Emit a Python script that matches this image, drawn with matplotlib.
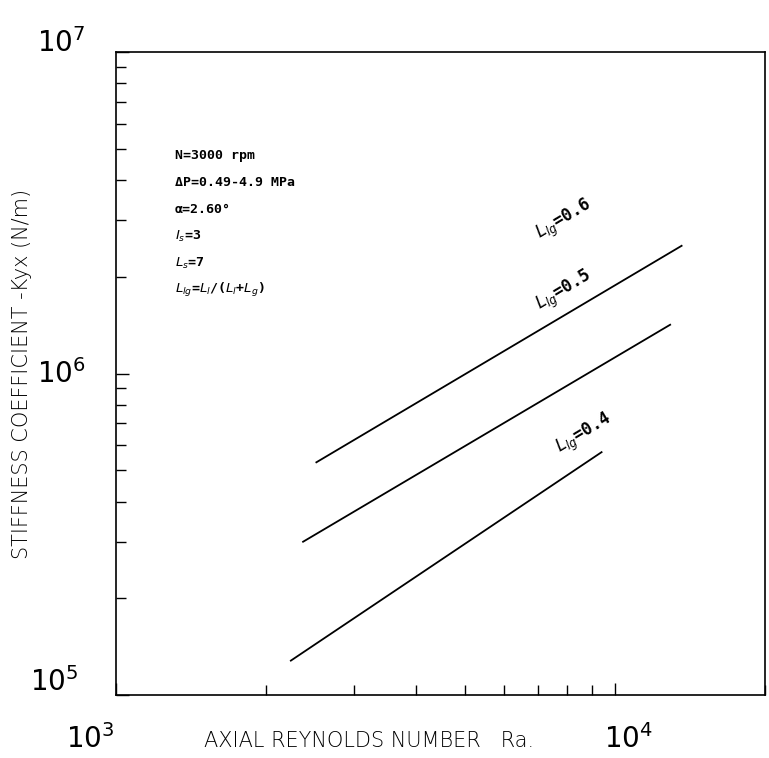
import matplotlib.pyplot as plt
from matplotlib.ticker import LogLocator, NullFormatter

plt.rcParams["font.family"] = ["DejaVu Sans"]

# values (Ra, -Kyx in N/m)
ra_06 = [2520, 13600]
k_06 = [5.3e5, 2.5e6]
ra_05 = [2370, 12900]
k_05 = [3.0e5, 1.42e6]
ra_04 = [2240, 9400]
k_04 = [1.28e5, 5.7e5]

line_labels = [r"$L_{lg}$=0.6", r"$L_{lg}$=0.5", r"$L_{lg}$=0.4"]
label_pos = [(7900, 3.0e6), (7900, 1.8e6), (8700, 6.5e5)]

info_lines = [
    "N=3000 rpm",
    "\u0394P=0.49-4.9 MPa",
    "\u03b1=2.60\u00b0",
    r"$I_s$=3",
    r"$L_s$=7",
    r"$L_{lg}$=$L_l$/($L_l$+$L_g$)",
]

fig = plt.figure(figsize=(7.69, 7.58), dpi=100)
ax = fig.add_axes([0.151, 0.083, 0.844, 0.848])

for xs, ys in [(ra_06, k_06), (ra_05, k_05), (ra_04, k_04)]:
    ax.plot(xs, ys, color="black", lw=1.3)

ax.set_xscale("log")
ax.set_yscale("log")
ax.set_xlim(1e3, 2e4)
ax.set_ylim(1e5, 1e7)

ax.xaxis.set_major_locator(LogLocator(base=10, numticks=5))
ax.xaxis.set_minor_locator(LogLocator(base=10, subs=range(2, 10), numticks=10))
ax.yaxis.set_major_locator(LogLocator(base=10, numticks=5))
ax.yaxis.set_minor_locator(LogLocator(base=10, subs=range(2, 10), numticks=10))
ax.xaxis.set_major_formatter(NullFormatter())
ax.xaxis.set_minor_formatter(NullFormatter())
ax.yaxis.set_major_formatter(NullFormatter())
ax.yaxis.set_minor_formatter(NullFormatter())
ax.tick_params(which="both", direction="in", top=False, right=False)
ax.tick_params(which="major", length=9, width=1)
ax.tick_params(which="minor", length=7, width=1)

for sp in ax.spines.values():
    sp.set_linewidth(1.2)

# tick labels drawn like the plotter ones
ax.text(-0.04, -0.068, r"$10^{3}$", transform=ax.transAxes, fontsize=20,
        ha="center", va="center")
ax.text(0.79, -0.068, r"$10^{4}$", transform=ax.transAxes, fontsize=20,
        ha="center", va="center")
ax.text(-0.085, 1.015, r"$10^{7}$", transform=ax.transAxes, fontsize=20,
        ha="center", va="center")
ax.text(-0.085, 0.5, r"$10^{6}$", transform=ax.transAxes, fontsize=20,
        ha="center", va="center")
ax.text(-0.095, 0.02, r"$10^{5}$", transform=ax.transAxes, fontsize=20,
        ha="center", va="center")

ax.text(0.39, -0.072, "AXIAL REYNOLDS NUMBER   Ra.", transform=ax.transAxes,
        fontsize=15, ha="center", va="center", fontweight="light")
ax.text(-0.145, 0.5, "STIFFNESS COEFFICIENT -Kyx (N/m)", transform=ax.transAxes,
        fontsize=15, ha="center", va="center", rotation=90, fontweight="light")

for i, s in enumerate(info_lines):
    ax.text(0.09, 0.84 - i * 0.042, s, transform=ax.transAxes, fontsize=9.5,
            family="DejaVu Sans Mono", fontweight="bold", ha="left", va="center")

for s, (x, y) in zip(line_labels, label_pos):
    ax.text(x, y, s, fontsize=12, family="DejaVu Sans Mono", fontweight="bold",
            rotation=31, ha="center", va="center", rotation_mode="anchor")

fig.savefig("out.png", dpi=100)
